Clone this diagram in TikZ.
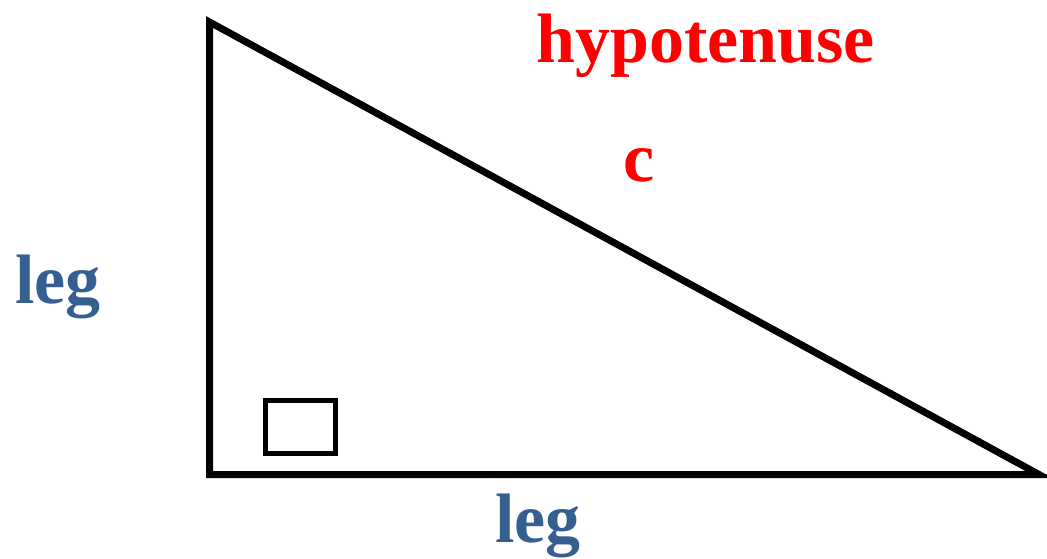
\documentclass[tikz,border=0pt]{standalone}
\usepackage{fontspec}
\setmainfont{Liberation Serif}
\definecolor{legblue}{HTML}{365F91}
\begin{document}
\begin{tikzpicture}[x=1pt,y=-1pt,
    label text/.style={anchor=base,inner sep=0pt,font=\bfseries\fontsize{70}{80}\selectfont},
    side/.style={line width=7pt,line join=miter}]
    \useasboundingbox (0,0) rectangle (1047,559);
    \clip (0,0) rectangle (1047,559);

    % Vertices
    \coordinate (top) at (209.5,22);
    \coordinate (corner) at (209.5,474.5);
    \coordinate (right) at (1039,474.5);
    \draw[side] (top) -- (corner) -- (right) -- cycle;

    % Right angle mark
    \draw[line width=5pt] (265.5,400) rectangle (335.5,453.5);

    % Labels
    \node[label text,red] (hyp) at (705.5,63) {hypotenuse};
    \node[label text,red] (c) at (639.5,182) {c};
    \node[label text,legblue] (legleft) at (58,303) {leg};
    \node[label text,legblue] (legbottom) at (538,542) {leg};
\end{tikzpicture}
\end{document}
